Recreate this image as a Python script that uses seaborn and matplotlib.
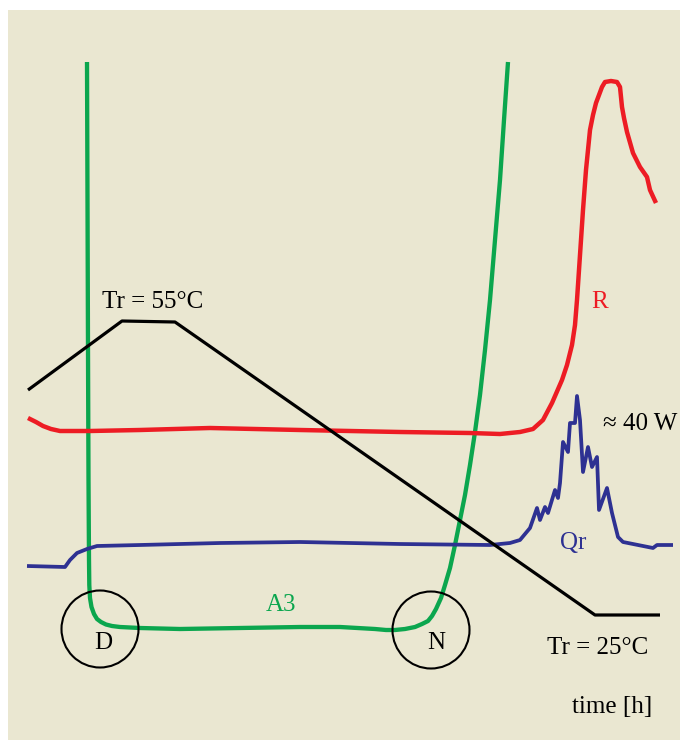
import matplotlib
matplotlib.use("Agg")
import matplotlib.pyplot as plt
from matplotlib.patches import Circle
import pandas as pd
import seaborn as sns

# series (horizontal = time, vertical = signal level, screen units)
a3_t = [87, 87.5, 88, 88.5, 89, 89.3, 90, 91.5, 94, 97, 101, 106, 112, 120, 130, 140, 180,
        240, 300, 340, 375, 386, 395, 405, 415, 422, 428, 432, 436, 441, 445, 450, 455,
        460, 465, 470, 475, 480, 485, 490, 495, 500, 504, 508]
a3_y = [62, 200, 350, 480, 560, 585, 598, 607, 614, 619, 622, 624.5, 626, 627, 627.5, 628,
        629, 628, 627, 627, 629, 630, 630, 629, 627, 624, 621, 616, 609, 598, 585, 568,
        545, 520, 495, 465, 432, 395, 350, 300, 240, 180, 120, 62]

r_t = [28, 36, 43, 51, 60, 90, 140, 210, 300, 400, 470, 500, 520, 533, 543, 552, 562, 567,
       572, 575, 577, 580, 583, 586, 588, 590, 593, 596, 599, 602, 605, 611, 617, 620,
       622, 624, 627, 633, 640, 647, 650, 656]
r_y = [418, 422, 426, 429, 431, 431, 430, 428, 430, 432, 433, 434, 432, 429, 420, 403, 380,
       365, 345, 325, 300, 255, 210, 170, 150, 130, 115, 103, 95, 87, 82, 81, 82, 87,
       107, 118, 132, 153, 167, 177, 190, 203]

qr_t = [27, 65, 70, 77, 87, 97, 140, 220, 300, 400, 490, 510, 520, 530, 537, 540, 545, 548,
        555, 558, 560, 563, 568, 570, 575, 577, 580, 583, 588, 592, 597, 599, 607, 612,
        618, 623, 653, 657, 673]
qr_y = [566, 567, 560, 553, 549, 546, 545, 543, 542, 544, 545, 543, 540, 528, 508, 520, 507,
        513, 490, 498, 483, 442, 452, 423, 423, 396, 420, 472, 447, 467, 457, 510, 488,
        513, 537, 542, 548, 545, 545]

tr_t = [28, 122, 175, 595, 660]
tr_y = [390, 321, 322, 615, 615]

bg = "#EAE7D1"
green = "#0BA64E"
red = "#ED1C24"
blue = "#2E3192"

sns.set_theme(style="white")
plt.rcParams["font.family"] = ["Liberation Serif", "DejaVu Serif"]

fig = plt.figure(figsize=(6.8, 7.4), dpi=100)
fig.patch.set_facecolor("white")
ax = fig.add_axes([8 / 680, 0, 672 / 680, 730 / 740])
ax.set_facecolor(bg)

series = [
    (a3_t, a3_y, green, 3.1),
    (r_t, r_y, red, 3.2),
    (qr_t, qr_y, blue, 2.7),
    (tr_t, tr_y, "black", 2.3),
]
for t, y, c, lw in series:
    d = pd.DataFrame({"t": t, "y": y})
    sns.lineplot(data=d, x="t", y="y", sort=False, estimator=None, color=c,
                 linewidth=lw, ax=ax, solid_joinstyle="round", solid_capstyle="butt")

for cx, cy in [(100, 629), (431, 630)]:
    ax.add_patch(Circle((cx, cy), 38.5, fill=False, edgecolor="black", linewidth=1.5, zorder=3))

fs = 18
ax.text(102, 302, "Tr = 55°C", fontsize=fs, ha="left", va="center", color="black")
ax.text(600, 302, "R", fontsize=fs, ha="center", va="center", color=red)
ax.text(603, 424, "≈ 40 W", fontsize=fs, ha="left", va="center", color="black")
ax.text(573, 543, "Qr", fontsize=fs, ha="center", va="center", color=blue)
ax.text(281, 605, "A3", fontsize=fs, ha="center", va="center", color=green)
ax.text(103, 643, "D", fontsize=fs, ha="center", va="center", color="black")
ax.text(436, 643, "N", fontsize=fs, ha="center", va="center", color="black")
ax.text(547, 648, "Tr = 25°C", fontsize=fs, ha="left", va="center", color="black")
ax.text(572, 707, "time [h]", fontsize=fs, ha="left", va="center", color="black")

ax.set_xlim(8, 680)
ax.set_ylim(740, 10)
ax.set_xlabel("")
ax.set_ylabel("")
ax.set_xticks([])
ax.set_yticks([])
for s in ax.spines.values():
    s.set_visible(False)

fig.savefig("out.png", dpi=100, facecolor="white")
